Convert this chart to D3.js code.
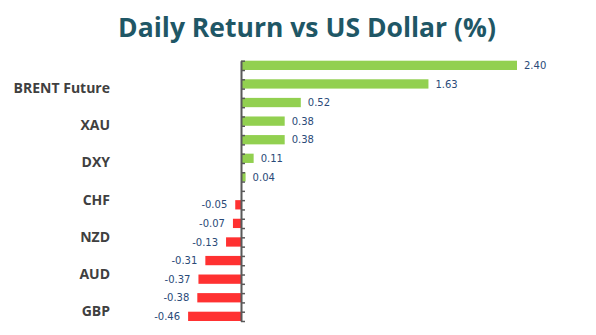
<!DOCTYPE html>
<html>
<head>
<meta charset="utf-8">
<script src="https://cdn.jsdelivr.net/npm/d3@7"></script>
<style>
  html, body { margin: 0; padding: 0; background: #fff; }
  svg { display: block; }
</style>
</head>
<body>
<svg id="chart" width="596" height="335"></svg>
<script>
// Daily return of each asset against the US dollar, sorted from best to worst
const categories = [
  "WTI Future", "BRENT Future", "XAG", "XAU", "JPY", "DXY", "CNY",
  "CHF", "CAD", "NZD", "EUR", "AUD", "SEK", "GBP"
];
const returns = [2.40, 1.63, 0.52, 0.38, 0.38, 0.11, 0.04,
                 -0.05, -0.07, -0.13, -0.31, -0.37, -0.38, -0.46];
// Only every other category name fits on the axis
const shownLabels = ["BRENT Future", "XAU", "DXY", "CHF", "NZD", "AUD", "GBP"];
const xDomain = [-0.5, 2.5];
const title = "Daily Return vs US Dollar (%)";

const svg = d3.select("#chart");

const plotTop = 60.7, plotBottom = 321;
const x = d3.scaleLinear().domain(xDomain).range([183.5, 528.5]);
const y = d3.scaleBand().domain(categories).range([plotTop, plotBottom]).padding(0);
// Gains and losses are two series sharing each category band
const sub = d3.scaleBand().domain(["gain", "loss"]).range([0, y.bandwidth()]).padding(0);

const data = categories.map((c, i) => ({
  cat: c,
  value: returns[i],
  series: returns[i] >= 0 ? "gain" : "loss"
}));

// Plain hyphen for negative numbers
const fmt = v => (v < 0 ? "-" : "") + Math.abs(v).toFixed(2);

// Title
svg.append("text")
  .attr("x", 307)
  .attr("y", 37)
  .attr("text-anchor", "middle")
  .attr("font-family", "'Open Sans', sans-serif")
  .attr("font-weight", "bold")
  .attr("font-size", 26.5)
  .attr("fill", "#1f5766")
  .text(title);

// Category axis ticks: one at every half-band boundary
const slots = d3.scaleLinear().domain([0, categories.length * 2]).range([plotTop, plotBottom]);
const tickAxis = d3.axisRight(slots)
  .tickValues(d3.range(0, categories.length * 2 + 1))
  .tickSize(4)
  .tickSizeOuter(0)
  .tickFormat("");

// Bars
svg.append("g").selectAll("rect")
  .data(data)
  .join("rect")
  .attr("x", d => Math.min(x(0), x(d.value)))
  .attr("width", d => Math.abs(x(d.value) - x(0)))
  .attr("y", d => y(d.cat) + sub(d.series))
  .attr("height", sub.bandwidth())
  .attr("fill", d => d.value >= 0 ? "#92d050" : "#ff3131");

const axisG = svg.append("g")
  .attr("transform", `translate(${x(0)},0)`)
  .call(tickAxis);
axisG.select(".domain").attr("stroke", "#595959").attr("stroke-width", 2);
axisG.selectAll(".tick line").attr("stroke", "#595959").attr("stroke-width", 1.5);

// Value labels
svg.append("g").selectAll("text")
  .data(data)
  .join("text")
  .attr("x", d => d.value >= 0 ? x(d.value) + 7 : x(d.value) - 8)
  .attr("y", d => y(d.cat) + sub(d.series) + sub.bandwidth() / 2)
  .attr("dy", "0.36em")
  .attr("text-anchor", d => d.value >= 0 ? "start" : "end")
  .attr("font-family", "'DejaVu Sans', sans-serif")
  .attr("font-size", 10)
  .attr("fill", "#2a4a78")
  .text(d => fmt(d.value));

// Category labels
const labelAxis = d3.axisLeft(y)
  .tickValues(shownLabels)
  .tickSize(0)
  .tickPadding(0);
const labelG = svg.append("g")
  .attr("transform", "translate(110,0)")
  .call(labelAxis);
labelG.select(".domain").remove();
labelG.selectAll("text")
  .attr("font-family", "'Open Sans', sans-serif")
  .attr("font-weight", "bold")
  .attr("font-size", 14)
  .attr("fill", "#404040");
</script>
</body>
</html>
